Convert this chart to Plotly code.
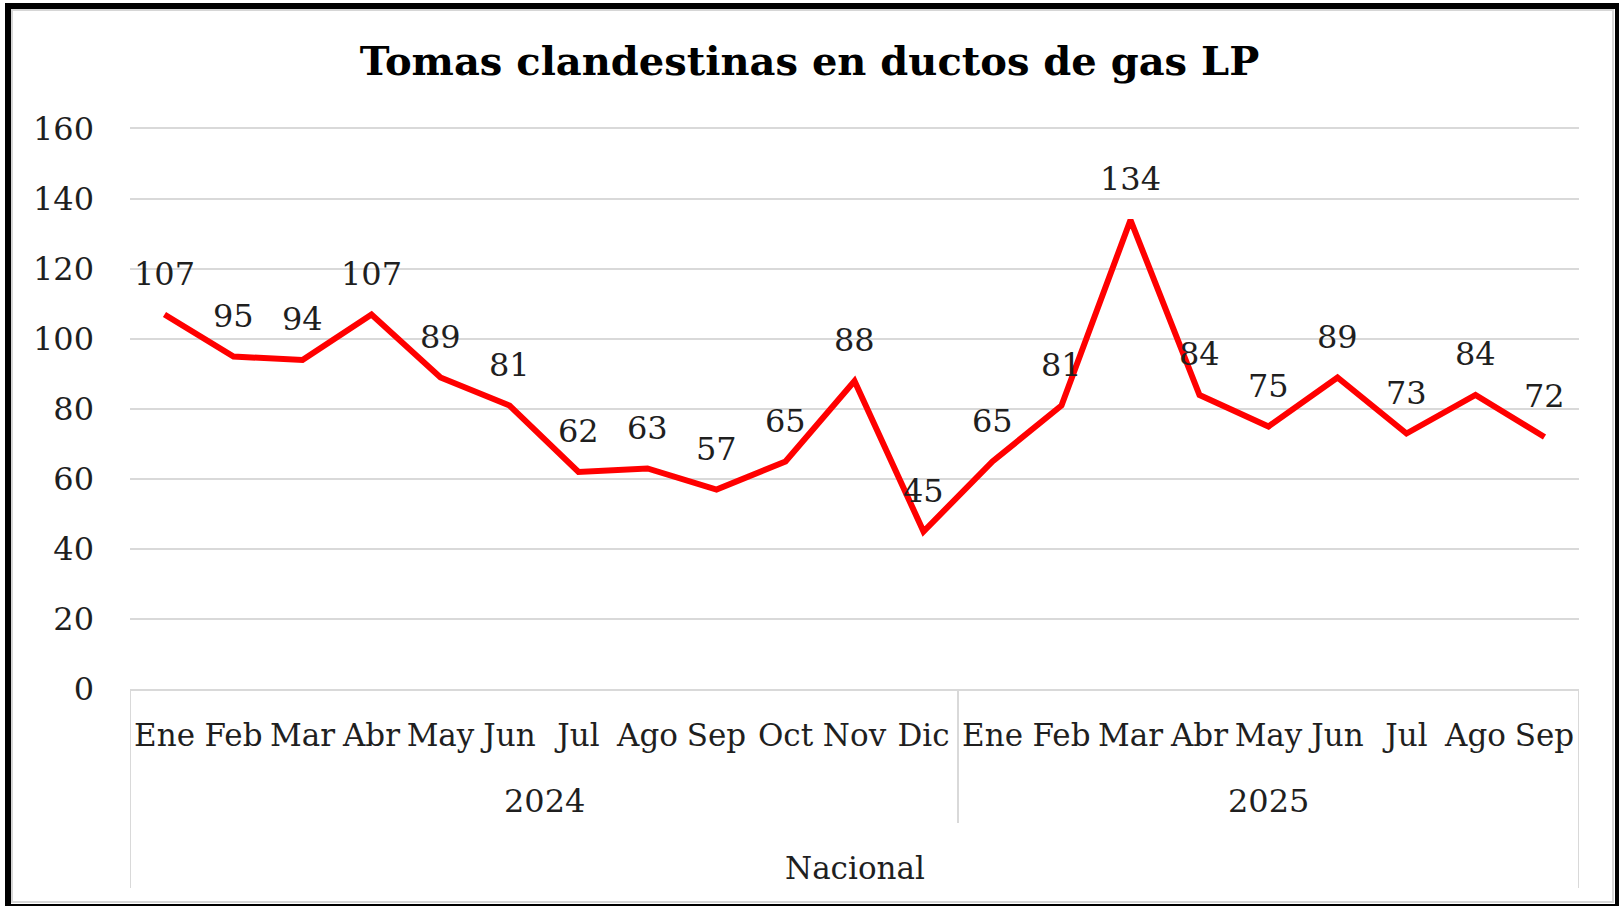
import plotly.graph_objects as go

# ---- data ----
months = ["Ene", "Feb", "Mar", "Abr", "May", "Jun", "Jul", "Ago", "Sep", "Oct", "Nov", "Dic",
          "Ene", "Feb", "Mar", "Abr", "May", "Jun", "Jul", "Ago", "Sep"]
years = ["2024"] * 12 + ["2025"] * 9
values = [107, 95, 94, 107, 89, 81, 62, 63, 57, 65, 88, 45,
          65, 81, 134, 84, 75, 89, 73, 84, 72]
year_labels = ["2024", "2025"]
group_label = "Nacional"
title_text = "Tomas clandestinas en ductos de gas LP"
y_ticks = [0, 20, 40, 60, 80, 100, 120, 140, 160]

W, H = 1619, 906
L, R, T, B = 130, 40, 129, 217
PW, PH = W - L - R, H - T - B

def px2x(px):
    return (px - L) / PW

def py2y(py):
    return (H - B - py) / PH

FONT = "DejaVu Serif"
TXT = "#1f1f1f"
NUM_SIZE = 32
WORD_SIZE = 31
GRID = "#d9d9d9"

x_idx = list(range(len(values)))

fig = go.Figure()
fig.add_trace(go.Scatter(
    x=x_idx, y=values, mode="lines",
    line=dict(color="#ff0000", width=6),
    hoverinfo="skip", showlegend=False,
))

# data labels
for i, v in zip(x_idx, values):
    fig.add_annotation(x=i, y=v, text=str(v), showarrow=False,
                       xanchor="center", yanchor="middle", yshift=41,
                       font=dict(family=FONT, size=NUM_SIZE, color=TXT))

# year labels
groups = {}
for i, yr in zip(x_idx, years):
    groups.setdefault(yr, []).append(i)
for yr in year_labels:
    idx = groups[yr]
    fig.add_annotation(x=(idx[0] + idx[-1]) / 2, y=py2y(801), xref="x", yref="paper",
                       text=yr, showarrow=False, yanchor="middle",
                       font=dict(family=FONT, size=NUM_SIZE, color=TXT))

fig.add_annotation(x=(x_idx[0] + x_idx[-1]) / 2, y=py2y(868), xref="x", yref="paper",
                   text=group_label, showarrow=False, yanchor="middle",
                   font=dict(family=FONT, size=WORD_SIZE, color=TXT))

# dividers
fig.add_shape(type="line", xref="x", yref="paper", x0=-0.5, x1=-0.5, y0=0, y1=py2y(888),
              line=dict(color=GRID, width=2))
fig.add_shape(type="line", xref="x", yref="paper", x0=len(values) - 0.5, x1=len(values) - 0.5,
              y0=0, y1=py2y(888), line=dict(color=GRID, width=2))
split = len(groups["2024"]) - 0.5
fig.add_shape(type="line", xref="x", yref="paper", x0=split, x1=split, y0=0, y1=py2y(823),
              line=dict(color=GRID, width=2))

# outer frame
fig.add_shape(type="rect", xref="paper", yref="paper",
              x0=px2x(12), x1=px2x(1613), y0=py2y(10), y1=py2y(902),
              line=dict(color="#d6d6d6", width=2), fillcolor="rgba(0,0,0,0)")
fig.add_shape(type="rect", xref="paper", yref="paper",
              x0=px2x(8), x1=px2x(1618), y0=py2y(6), y1=py2y(907),
              line=dict(color="#000000", width=6), fillcolor="rgba(0,0,0,0)", layer="above")

fig.update_layout(
    width=W, height=H,
    margin=dict(l=L, r=R, t=T, b=B),
    paper_bgcolor="white", plot_bgcolor="white",
    title=dict(text="<b>" + title_text + "</b>", x=809.5 / W, xanchor="center",
               y=1 - 61 / H, yanchor="middle", yref="container",
               font=dict(family=FONT, size=40, color="#000000")),
    showlegend=False,
)
fig.update_xaxes(
    range=[-0.5, len(values) - 0.5],
    tickmode="array", tickvals=x_idx, ticktext=months,
    showgrid=False, zeroline=False,
    showline=True, linecolor=GRID, linewidth=2, mirror=True,
    ticks="",
    ticklabelstandoff=18,
    tickfont=dict(family=FONT, size=WORD_SIZE, color=TXT),
)
fig.update_yaxes(
    range=[0, 160], tickmode="array", tickvals=y_ticks,
    showgrid=True, gridcolor=GRID, gridwidth=2,
    zeroline=False, showline=False, ticks="",
    ticklabelstandoff=35,
    tickfont=dict(family=FONT, size=NUM_SIZE, color=TXT),
)

fig.write_html(
    "out.html",
    config={"displayModeBar": False},
    post_script="document.body.style.margin='0';document.body.style.overflow='hidden';",
)
